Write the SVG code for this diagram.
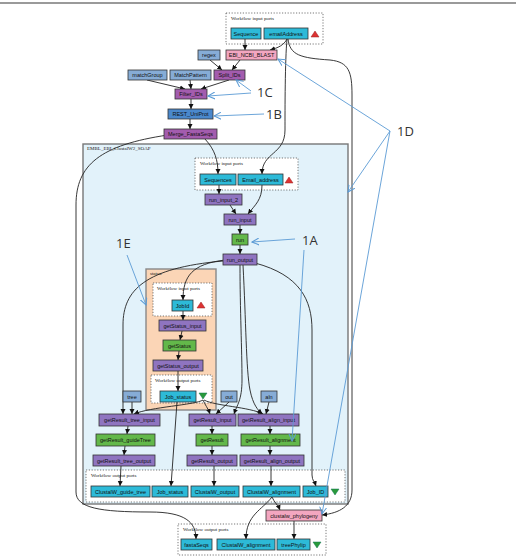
<svg xmlns="http://www.w3.org/2000/svg" width="516" height="558" viewBox="0 0 516 558">
<defs>
<marker id="ah" markerUnits="userSpaceOnUse" markerWidth="6" markerHeight="6" refX="5" refY="3" orient="auto"><path d="M0,0.5 L5,3 L0,5.5 Z" fill="#111"/></marker>
<marker id="bh" markerUnits="userSpaceOnUse" markerWidth="8" markerHeight="8" refX="7" refY="4" orient="auto"><path d="M0,0.5 L7,4 L0,7.5" fill="none" stroke="#5b9bd5" stroke-width="1"/></marker>
</defs>
<style>
.box{stroke:#333;stroke-width:0.8}
.port{fill:#2dbad8}
.proc{fill:#8f74c0}
.mag{fill:#a35cae}
.grn{fill:#63b84a}
.pink{fill:#f3a6c0}
.lb{fill:#86acd6}
.rest{fill:#4a88cc}
.t{font-family:"Liberation Sans",Arial,sans-serif;font-size:5.5px;fill:#111;text-anchor:middle}
.pl{font-family:"Liberation Serif","Times New Roman",serif;font-size:5px;fill:#222}
.dot{fill:#fff;stroke:#555;stroke-width:0.8;stroke-dasharray:1.2,1.6}
.c{fill:none;stroke:#222;stroke-width:0.9;marker-end:url(#ah)}
.cn{fill:none;stroke:#333;stroke-width:0.9}
.b{fill:none;stroke:#5b9bd5;stroke-width:0.9;marker-end:url(#bh)}
.ann{font-family:"Open Sans","Liberation Sans",sans-serif;font-size:13px;fill:#333}
</style>
<rect x="0" y="0" width="516" height="558" fill="#fff"/>
<line x1="0" y1="3" x2="516" y2="3" stroke="#9a9a9a" stroke-width="2"/>

<g id="container">
<rect x="83" y="144" width="265" height="360" fill="#e2f2fa" stroke="#777" stroke-width="1.4"/>
<text x="87" y="150" class="pl">EMBL_EBI_ClustalW2_SOAP</text>
</g>
<g id="status-box">
<rect x="146" y="269" width="70" height="141" fill="#fbd5b6" stroke="#888" stroke-width="1.4"/>
<text x="150" y="275" class="pl">status</text>
</g>

<g id="top-inports"><rect x="226" y="13" width="97" height="31" class="dot"/><text x="231" y="20" class="pl">Workflow input ports</text></g>
<g id="inner-inports"><rect x="195" y="158" width="103" height="32" class="dot"/><text x="200" y="165" class="pl">Workflow input ports</text></g>
<g id="status-inports"><rect x="153" y="283" width="59" height="33" class="dot"/><text x="157" y="290" class="pl">Workflow input ports</text></g>
<g id="status-outports"><rect x="151" y="375" width="61" height="28" class="dot"/><text x="155" y="382" class="pl">Workflow output ports</text></g>
<g id="inner-outports"><rect x="86" y="470" width="259" height="32" class="dot"/><text x="91" y="477" class="pl">Workflow output ports</text></g>
<g id="bottom-outports"><rect x="178" y="524" width="148" height="31" class="dot"/><text x="183" y="531" class="pl">Workflow output ports</text></g>

<g id="connectors">
<path class="c" d="M245,39 L245,50"/>
<path class="c" d="M287,39 C284,45 278,48 270,50"/>
<path class="c" d="M240,60 L232,70"/>
<path class="c" d="M210,60 L222,70"/>
<path class="c" d="M147,80 L185,89"/>
<path class="c" d="M190,80 L191,89"/>
<path class="c" d="M229,80 L201,89"/>
<path class="c" d="M191,99 L191,109"/>
<path class="c" d="M190,119 L190,129"/>
<path class="c" d="M205,139 C215,150 218,160 218,174"/>
<path class="c" d="M287,39 C285,60 285,110 285,130 C285,155 262,152 262,174"/>
<path class="c" d="M288,39 C290,55 300,58 330,60 C349,62 352,72 352,95 L352,490 C352,506 340,513 322,515"/>
<path class="c" d="M168,135 C100,145 76,165 76,205 L76,492 C76,508 100,512 150,512 C185,512 196,522 196,539"/>
<path class="c" d="M219,185 L219,194"/>
<path class="c" d="M230,205 L236,214"/>
<path class="c" d="M262,185 C262,200 255,205 248,214"/>
<path class="c" d="M240,225 L240,234"/>
<path class="c" d="M240,245 L240,254"/>
<path class="c" d="M225,260 C192,264 183,276 183,300"/>
<path class="c" d="M223,261 C145,268 123,290 123,325 L123,414"/>
<path class="c" d="M240,265 C240,310 242,350 242,380 C242,400 237,405 234,414"/>
<path class="c" d="M243,265 C246,320 246,370 250,390 C253,405 258,410 262,414"/>
<path class="c" d="M255,263 C300,275 312,300 312,330 L312,475 C312,480 315,483 316,486"/>
<path class="c" d="M183,311 L183,320"/>
<path class="c" d="M182,331 L180,340"/>
<path class="c" d="M179,351 L178,360"/>
<path class="c" d="M178,371 L178,391"/>
<path class="c" d="M177,402 L171,486"/>
<path class="c" d="M203,400 C195,405 150,407 134,414"/>
<path class="c" d="M203,400 C205,405 208,408 210,414"/>
<path class="c" d="M204,400 C215,406 250,407 263,414"/>
<path class="c" d="M132,402 L132,414"/>
<path class="c" d="M229,402 L216,414"/>
<path class="c" d="M269,402 L266,414"/>
<path class="c" d="M128,426 L127,434"/>
<path class="c" d="M125,446 L124,455"/>
<path class="c" d="M121,466 L120,486"/>
<path class="c" d="M212,426 L212,434"/>
<path class="c" d="M212,446 L212,455"/>
<path class="c" d="M214,466 L214,486"/>
<path class="c" d="M270,426 L270,434"/>
<path class="c" d="M270,446 L270,455"/>
<path class="c" d="M271,466 L271,486"/>
<path class="c" d="M272,497 C274,502 278,505 280,510"/>
<path class="c" d="M272,497 C262,510 246,515 246,539"/>
<path class="c" d="M294,521 L294,539"/>
</g>

<g id="top-Sequence"><rect class="box port" x="231" y="28" width="30" height="11"/><text class="t" x="246" y="35.5">Sequence</text></g>
<g id="top-emailAddress"><rect class="box port" x="264" y="28" width="44" height="11"/><text class="t" x="286" y="35.5">emailAddress</text></g>
<path d="M311,37 L315,31 L319,37 Z" fill="#d33" stroke="#922" stroke-width="0.5"/>
<g id="EBI_NCBI_BLAST"><rect class="box pink" x="226" y="50" width="51" height="10"/><text class="t" x="251.5" y="57">EBI_NCBI_BLAST</text></g>
<g id="regex"><rect class="box lb" x="198" y="50" width="22" height="10"/><text class="t" x="209" y="57">regex</text></g>
<g id="matchGroup"><rect class="box lb" x="128" y="70" width="39" height="10"/><text class="t" x="147.5" y="77">matchGroup</text></g>
<g id="MatchPattern"><rect class="box lb" x="170" y="70" width="41" height="10"/><text class="t" x="190.5" y="77">MatchPattern</text></g>
<g id="Split_IDs"><rect class="box mag" x="214" y="70" width="31" height="10"/><text class="t" x="229.5" y="77">Split_IDs</text></g>
<g id="Filter_IDs"><rect class="box mag" x="175" y="89" width="32" height="10"/><text class="t" x="191" y="96">Filter_IDs</text></g>
<g id="REST_UniProt"><rect class="box rest" x="168" y="109" width="45" height="10"/><text class="t" x="190.5" y="116">REST_UniProt</text></g>
<g id="Merge_FastaSeqs"><rect class="box mag" x="164" y="129" width="53" height="10"/><text class="t" x="190.5" y="136">Merge_FastaSeqs</text></g>

<g id="Sequences"><rect class="box port" x="200" y="174" width="36" height="11"/><text class="t" x="218" y="181.5">Sequences</text></g>
<g id="Email_address"><rect class="box port" x="238" y="174" width="45" height="11"/><text class="t" x="260.5" y="181.5">Email_address</text></g>
<path d="M285,183 L289,177 L293,183 Z" fill="#d33" stroke="#922" stroke-width="0.5"/>
<g id="run_input_2"><rect class="box proc" x="205" y="194" width="37" height="11"/><text class="t" x="223.5" y="201.5">run_input_2</text></g>
<g id="run_input"><rect class="box proc" x="224" y="214" width="32" height="11"/><text class="t" x="240" y="221.5">run_input</text></g>
<g id="run"><rect class="box grn" x="232" y="234" width="16" height="11"/><text class="t" x="240" y="241.5">run</text></g>
<g id="run_output"><rect class="box proc" x="223" y="254" width="34" height="11"/><text class="t" x="240" y="261.5">run_output</text></g>

<g id="JobId"><rect class="box port" x="172" y="300" width="21" height="11"/><text class="t" x="182.5" y="307.5">JobId</text></g>
<path d="M197,308 L201,302 L205,308 Z" fill="#d33" stroke="#922" stroke-width="0.5"/>
<g id="getStatus_input"><rect class="box proc" x="159" y="320" width="47" height="11"/><text class="t" x="182.5" y="327.5">getStatus_input</text></g>
<g id="getStatus"><rect class="box grn" x="163" y="340" width="33" height="11"/><text class="t" x="179.5" y="347.5">getStatus</text></g>
<g id="getStatus_output"><rect class="box proc" x="153" y="360" width="50" height="11"/><text class="t" x="178" y="367.5">getStatus_output</text></g>
<g id="status-Job_status"><rect class="box port" x="160" y="391" width="36" height="11"/><text class="t" x="178" y="398.5">Job_status</text></g>
<path d="M199,393 L207,393 L203,399 Z" fill="#2a9a3a" stroke="#175" stroke-width="0.5"/>

<g id="tree"><rect class="box lb" x="123" y="391" width="18" height="11"/><text class="t" x="132" y="398.5">tree</text></g>
<g id="out"><rect class="box lb" x="221" y="391" width="16" height="11"/><text class="t" x="229" y="398.5">out</text></g>
<g id="aln"><rect class="box lb" x="261" y="391" width="16" height="11"/><text class="t" x="269" y="398.5">aln</text></g>

<g id="getResult_tree_input"><rect class="box proc" x="99" y="414" width="61" height="12"/><text class="t" x="129.5" y="422">getResult_tree_input</text></g>
<g id="getResult_input"><rect class="box proc" x="189" y="414" width="47" height="12"/><text class="t" x="212.5" y="422">getResult_input</text></g>
<g id="getResult_align_input"><rect class="box proc" x="238" y="414" width="61" height="12"/><text class="t" x="268.5" y="422">getResult_align_input</text></g>
<g id="getResult_guideTree"><rect class="box grn" x="96" y="434" width="59" height="12"/><text class="t" x="125.5" y="442">getResult_guideTree</text></g>
<g id="getResult"><rect class="box grn" x="196" y="434" width="32" height="12"/><text class="t" x="212" y="442">getResult</text></g>
<g id="getResult_alignment"><rect class="box grn" x="241" y="434" width="59" height="12"/><text class="t" x="270.5" y="442">getResult_alignment</text></g>
<g id="getResult_tree_output"><rect class="box proc" x="93" y="455" width="62" height="11"/><text class="t" x="124" y="462.5">getResult_tree_output</text></g>
<g id="getResult_output"><rect class="box proc" x="187" y="455" width="50" height="11"/><text class="t" x="212" y="462.5">getResult_output</text></g>
<g id="getResult_align_output"><rect class="box proc" x="240" y="455" width="64" height="11"/><text class="t" x="272" y="462.5">getResult_align_output</text></g>

<g id="ClustalW_guide_tree"><rect class="box port" x="91" y="486" width="59" height="11"/><text class="t" x="120.5" y="493.5">ClustalW_guide_tree</text></g>
<g id="out-Job_status"><rect class="box port" x="152" y="486" width="36" height="11"/><text class="t" x="170" y="493.5">Job_status</text></g>
<g id="ClustalW_output"><rect class="box port" x="191" y="486" width="48" height="11"/><text class="t" x="215" y="493.5">ClustalW_output</text></g>
<g id="ClustalW_alignment"><rect class="box port" x="243" y="486" width="57" height="11"/><text class="t" x="271.5" y="493.5">ClustalW_alignment</text></g>
<g id="Job_ID"><rect class="box port" x="303" y="486" width="25" height="11"/><text class="t" x="315.5" y="493.5">Job_ID</text></g>
<path d="M331,489 L339,489 L335,495 Z" fill="#2a9a3a" stroke="#175" stroke-width="0.5"/>

<g id="clustalw_phylogeny"><rect class="box pink" x="266" y="510" width="56" height="11"/><text class="t" x="294" y="517.5">clustalw_phylogeny</text></g>

<g id="fastaSeqs"><rect class="box port" x="181" y="539" width="31" height="11"/><text class="t" x="196.5" y="546.5">fastaSeqs</text></g>
<g id="bottom-ClustalW_alignment"><rect class="box port" x="217" y="539" width="58" height="11"/><text class="t" x="246" y="546.5">ClustalW_alignment</text></g>
<g id="treePhylip"><rect class="box port" x="277" y="539" width="33" height="11"/><text class="t" x="293.5" y="546.5">treePhylip</text></g>
<path d="M313,542 L321,542 L317,548 Z" fill="#2a9a3a" stroke="#175" stroke-width="0.5"/>

<g id="annotations">
<path class="b" d="M251,91 L236,80"/>
<path class="b" d="M251,93 L208,96"/>
<path class="b" d="M264,114 L214,116"/>
<path class="b" d="M295,239 L252,242"/>
<path class="b" d="M304,250 L292,441"/>
<path class="b" d="M127,255 L146,305"/>
<path class="b" d="M390,131 L278,59"/>
<path class="b" d="M390,131 L348,192"/>
<path class="b" d="M390,131 L322,514"/>
<text class="ann" x="257" y="97">1C</text>
<text class="ann" x="266" y="119">1B</text>
<text class="ann" x="302" y="245">1A</text>
<text class="ann" x="116" y="248">1E</text>
<text class="ann" x="397" y="136">1D</text>
</g>
</svg>
